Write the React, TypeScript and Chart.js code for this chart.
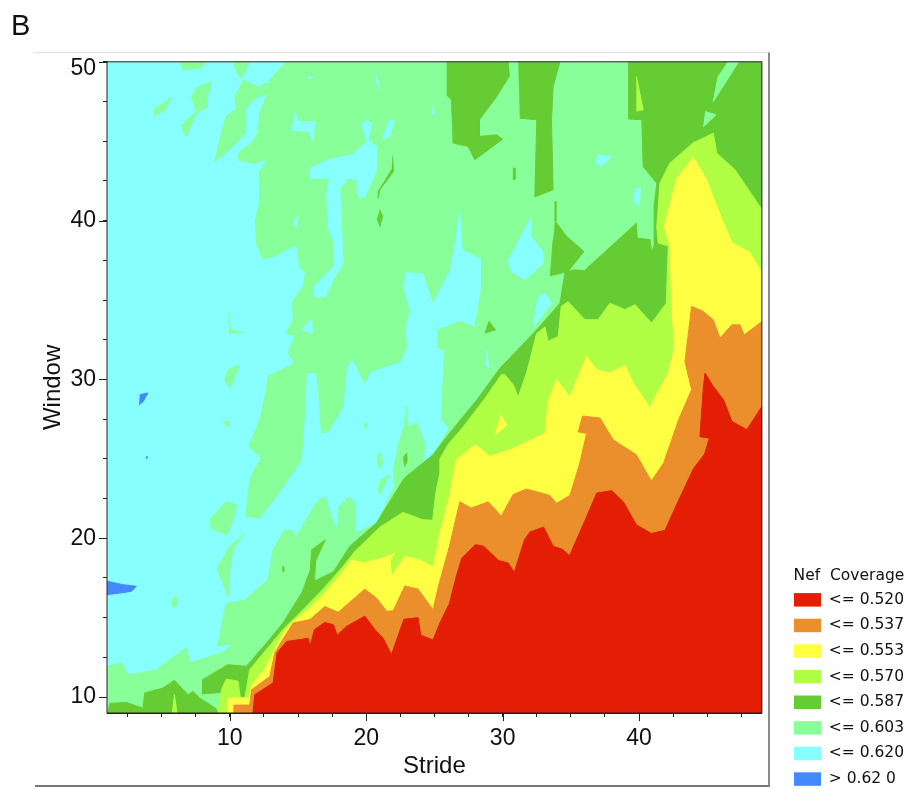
import React, { useEffect, useRef } from "react";
import { Chart, registerables } from "chart.js";

Chart.register(...registerables);

type P = [number, number];

const strideTicks = [2.5, 5, 7.5, 10, 12.5, 15, 17.5, 20, 22.5, 25, 27.5, 30, 32.5, 35, 37.5, 40, 42.5, 45, 47.5];
const windowTicks = [10, 12.5, 15, 17.5, 20, 22.5, 25, 27.5, 30, 32.5, 35, 37.5, 40, 42.5, 45, 47.5, 50];
const majorTicks = [10, 20, 30, 40, 50];

const legendLabels = ["<= 0.520", "<= 0.537", "<= 0.553", "<= 0.570", "<= 0.587", "<= 0.603", "<= 0.620", "> 0.62 0"];
const legendColors = ["#E31E04", "#EA8F2B", "#FFFF44", "#B0FF44", "#66CC33", "#88FF99", "#88FFFF", "#4488FF"];
const [RED, ORANGE, YELLOW, LIME, GREEN, PALE, CYAN, BLUE] = legendColors;

const cyanField: P[] = [[1, 9], [1, 50], [49, 50], [49, 9]];

const paleMain: P[] = [[14.15, 50], [12.93, 48.87], [12.69, 47.8], [12.2, 46.77], [12.08, 45.5], [11.46, 44.78], [10.73, 44.35], [10.6, 43.83], [11.83, 43.6], [12.8, 43.93], [12.15, 43], [12.2, 41.3], [11.9, 40.05], [11.95, 38.6], [12.44, 37.58], [13.18, 37.74], [14.9, 38.5], [15.13, 37.1], [15.57, 36.7], [15.38, 35.86], [14.6, 34.9], [14.64, 33.76], [14.15, 32.9], [14.77, 32.8], [14.3, 31.66], [14.77, 31], [12.8, 30.2], [12.69, 29.36], [12.2, 27.47], [11.4, 25.8], [12.3, 25.05], [11.5, 23.8], [11.17, 21.38], [12.2, 21.28], [13.7, 23], [15.25, 24.95], [15.5, 28.1], [15.57, 29.36], [15.6, 30.4], [16, 30.44], [16.35, 30.4], [16.5, 29.36], [16.72, 26.63], [17.2, 26.73], [18.3, 28.3], [18.4, 29.36], [18.55, 30.8], [19, 31.3], [19.9, 29.77], [20.27, 30.5], [22.47, 31.13], [22.96, 32.08], [22.83, 33.13], [23.15, 34.38], [22.7, 35.65], [22.83, 36.8], [24.2, 36.7], [24.9, 34.9], [26.1, 36.9], [26.5, 38.8], [26.86, 41.3], [27.1, 38.2], [28.45, 37.6], [28.45, 35.65], [27.96, 33.3], [26.86, 33.65], [25.27, 33.13], [25.27, 32], [25.76, 31.87], [25.6, 29.36], [25.53, 27.47], [26.1, 26.94], [24.9, 25.26], [24.2, 24.74], [24.3, 26], [23.7, 27.26], [23, 27], [22.96, 28.3], [22.76, 27], [22.34, 25.8], [22, 24.3], [22.1, 23.3], [20.75, 20.96], [19.2, 20.3], [19.2, 22.2], [18.7, 22.6], [18, 22], [17.9, 20.5], [17.5, 21.2], [17, 22.6], [16.4, 22.3], [14.8, 20], [14.6, 20.5], [14, 20.5], [13.2, 19.3], [12.8, 17.4], [11.1, 16.1], [9.74, 15.9], [9.1, 13.2], [10.2, 13.4], [9.75, 12.9], [7.06, 12.15], [6.8, 13.1], [4.6, 11.7], [2.54, 11.4], [2.05, 12.15], [1, 11.94], [1, 9], [49, 9], [49, 50]];

const paleIslands: P[][] = [
  [[6.28, 50], [8.16, 50], [7.92, 49.6], [6.57, 49.5]],
  [[10.24, 50], [11.46, 50], [10.85, 48.97], [10.44, 49.4]],
  [[10.98, 48.87], [12.1, 48.4], [12.69, 48.66], [12.8, 48], [11.83, 47.7], [11.1, 46.98], [11.2, 46.56], [11.1, 45.5], [10.24, 44.67], [8.9, 43.7], [9.39, 45.5], [9.75, 46.56], [10.5, 47.1], [10.36, 47.8]],
  [[8.65, 48.76], [8.41, 48], [8.29, 47.1], [7.55, 46.77], [7.06, 45.8], [6.77, 45.3], [6.45, 46], [7.55, 46.87], [7.19, 47.8], [7.67, 48.45]],
  [[5.72, 47.8], [5.23, 46.98], [4.5, 46.6], [4.42, 47]],
  [[9.87, 30.6], [10.73, 30.92], [10, 29.45], [9.6, 30]],
  [[9.9, 34.2], [10, 32.9], [11, 32.95], [10.1, 33.1]],
  [[9.5, 27.3], [9.88, 27.4], [10, 27.2], [9.75, 27]],
  [[8.53, 21.17], [9.75, 22.3], [10.5, 22.1], [10.1, 20.75], [9.75, 20.2], [8.6, 20.65]],
  [[11.1, 20.3], [10, 19.5], [9.07, 18.13], [9.88, 16.35], [10, 17.9], [10.24, 19.3]],
  [[5.96, 16.35], [6.2, 16], [5.9, 15.6], [5.7, 16]],
  [[19.8, 27.15], [20.1, 27.26], [20, 26.9]],
  [[20.95, 25.5], [21.2, 24.7], [20.9, 24.4], [20.8, 25.15]],
  [[21, 23.6], [21.7, 24], [21, 22.8], [20.83, 23]],
];

const cyanHoles: P[][] = [
  [[14.77, 46.87], [15, 46.24], [16.23, 46.24], [16.1, 45], [15.74, 45.6], [14.5, 45.7]],
  [[15.75, 49.08], [16.1, 49], [15.8, 48.87]],
  [[20.75, 49.18], [21, 48.24], [20.7, 48.87]],
  [[19.65, 46], [20, 46.35], [20.4, 46.14], [20.15, 45.1], [20.76, 44.67], [20.76, 43.2], [19.9, 41.5], [19.4, 41.5], [19.3, 42.57], [18.68, 42.67], [18.07, 42], [18.2, 39.63], [18.3, 37.3], [17.6, 36.28], [17, 35.2], [16.2, 35.2], [16.2, 35.85], [17.6, 37.1], [17.6, 38.6], [17.2, 39.63], [17.1, 41.7], [17.33, 42.67], [15.87, 42.67], [15.87, 43.3], [17.2, 43.83], [19, 44.15], [20, 44.98]],
  [[21.6, 46.24], [22.1, 46.35], [21.73, 45.3], [21.12, 45.1]],
  [[14.77, 40.16], [15, 40.26], [14.9, 39.53], [14.65, 39.84]],
  [[16, 33.86], [16.06, 32.9], [15.25, 33.13]],
  [[24.9, 47.3], [25, 46.66], [24.8, 46.77]],
  [[36.9, 44.15], [38, 44], [37.25, 43.45], [36.84, 43.6]],
  [[39.7, 42], [40.1, 42], [40, 40.9], [39.6, 41.3]],
  [[32.1, 40.26], [31.2, 38.8], [30.4, 37.5], [30.65, 36.8], [31.63, 36.28], [32.97, 37.3], [32.97, 38], [32.1, 39]],
  [[33.1, 35.43], [33.58, 34.8], [32.24, 33.3], [32.6, 35.2]],
  [[28.8, 31.87], [29, 30.7], [28.77, 30.9]],
];

const blueIslands: P[][] = [
  [[1, 17.3], [2.16, 17.08], [3.15, 16.98], [2.8, 16.66], [1.93, 16.55], [1, 16.45]],
  [[3.4, 29.04], [4, 29.15], [3.64, 28.6], [3.35, 28.4]],
  [[3.85, 25.15], [4, 25.1], [3.9, 25]],
];

const greenBase: P[] = [[1.07, 9], [1.2, 9.6], [2.4, 9.67], [3.64, 9.3], [3.76, 10.26], [5.1, 10.57], [5.94, 11.06], [6.94, 10.15], [7.3, 10.36], [7.8, 9.94], [8.96, 9.3], [9.14, 9]];

const greenMain: P[] = [[9.4, 9], [9.4, 10.3], [8, 10.2], [8, 11.1], [9.85, 12.04], [11.22, 11.94], [12.69, 13.4], [13.9, 14.67], [14.64, 15.7], [15.3, 16.6], [15.5, 17.08], [15.9, 18], [16, 19.28], [17, 19.9], [16.3, 18.6], [16.2, 17.3], [17.6, 17.9], [18.8, 19.5], [20.75, 20.96], [22.8, 23.8], [24.9, 25.26], [25.9, 26.4], [28.1, 28.7], [29.8, 30.7], [32.5, 33.13], [34.2, 34.8], [34.56, 36.7], [35.17, 36.9], [36, 36.86], [39.8, 39.84], [39.87, 38.9], [40.8, 38.8], [40.92, 38], [41.1, 38.4], [41.1, 40.9], [41.3, 42.36], [40.3, 43.4], [40.2, 46.35], [39.23, 46.4], [39.23, 50], [49, 50], [49, 9]];

const greenIslands: P[][] = [
  [[25.9, 50], [30.4, 50], [30.5, 49.1], [29.55, 47.8], [28.3, 46.35], [28.28, 45.3], [29.55, 45.4], [30, 45.13], [27.96, 43.83], [27.47, 44.67], [26.37, 44.88], [26.25, 47.6], [25.9, 47.9]],
  [[31.14, 50], [34.2, 50], [33.7, 48.45], [33.58, 46.35], [33.7, 41.94], [32.36, 41.5], [32.5, 46.35], [31.26, 46.45]],
  [[33.83, 40], [34.7, 39], [35.96, 38.06], [34.8, 36.8], [33.5, 36.53], [33.7, 38.8]],
  [[33.8, 41.2], [33.9, 41.2], [33.9, 40], [33.8, 40]],
  [[28.7, 32.9], [29, 33.65], [29.5, 33.1]],
  [[30.75, 43.3], [30.9, 43.3], [30.9, 42.6], [30.75, 42.6]],
  [[21, 40.68], [21.2, 40.26], [21, 39.63], [20.8, 40.16]],
  [[21.93, 44.04], [22, 43.1], [21, 41.94], [20.88, 41.4], [20.88, 41.84], [21.86, 43.2]],
  [[22.7, 25.05], [22.97, 25.37], [23, 24.85], [22.8, 24.5]],
  [[13.85, 18.25], [13.95, 18.2], [13.95, 17.9], [13.85, 17.95]],
];

const paleInGreen: P[][] = [
  [[46.5, 50], [47.3, 50], [45.44, 47.5], [45.8, 49.1]],
  [[44.83, 46.87], [45.64, 46.66], [44.7, 45.9]],
];

const limeMain: P[] = [[9.14, 9], [9.39, 10.47], [9.75, 11.14], [10.6, 11], [10.78, 9.95], [11.1, 9.95], [11.34, 11.1], [11.46, 11.73], [12.69, 13], [13.9, 14.25], [15.13, 15.3], [16.8, 16.76], [18.3, 18.23], [19.2, 19.2], [21, 20.7], [22.7, 21.63], [24.13, 21.17], [24.87, 21.13], [25.1, 22.85], [25.4, 24.1], [25.4, 25], [26, 25.9], [27.1, 27], [28.7, 28.8], [29.9, 30.3], [30.16, 30.3], [30.77, 29.66], [31.14, 28.9], [31.75, 30.4], [32.5, 32.9], [33.1, 33.3], [33.34, 32.4], [34.07, 32.7], [34.3, 34.6], [34.8, 34.9], [36.03, 33.76], [37, 33.76], [37.86, 34.8], [38.96, 34.4], [39.7, 34.7], [40.92, 33.55], [42, 34.8], [42.14, 38.4], [41.4, 38.6], [41.3, 39.6], [41.53, 42.36], [42.26, 43.62], [43.97, 44.9], [45.44, 45.5], [45.69, 44.25], [47.03, 43.2], [49, 40.7], [49, 9]];

const limeIslands: P[][] = [
  [[5.8, 9], [5.94, 10.15], [6.13, 9]],
  [[39.8, 49.08], [40.3, 46.98], [39.8, 46.9]],
];

const yellowMain: P[] = [[9.83, 9], [9.88, 9.95], [11.46, 9.95], [11.58, 10.7], [12.69, 11.94], [13.18, 12.8], [13.9, 14.04], [14.5, 14.67], [15.6, 15.4], [16.97, 16.55], [18.3, 17.9], [18.94, 18.65], [19.8, 18.44], [21.24, 18.76], [22.1, 19.07], [21.75, 18.65], [21.85, 17.6], [22.83, 18.86], [23.9, 18.65], [24.9, 18.2], [25.4, 20.3], [26.1, 22.6], [26.6, 24.95], [28, 25.9], [29.06, 25.16], [30.65, 25.6], [33.1, 26.6], [33.34, 28.6], [33.95, 30], [34.93, 28.9], [36.15, 31.45], [36.9, 30.6], [37.9, 30.4], [38.96, 30.9], [39.57, 29.8], [40.8, 28.2], [41.04, 28.7], [42.14, 30.4], [42.6, 32], [42.4, 34.6], [42.26, 38.4], [42.14, 38.8], [41.85, 39.6], [42.75, 42.6], [43.97, 44], [44.95, 42.57], [45.69, 40.9], [46.8, 38.6], [48.13, 38], [49, 36.7], [49, 9]];

const yellowIslands: P[][] = [[[29.9, 27.8], [29.43, 26.5], [30.33, 27.15]]];

const orangeMain: P[] = [[10.24, 9], [10.3, 9.5], [11.46, 9.5], [11.6, 10.47], [12.93, 11.3], [13.3, 12.8], [14.03, 13.83], [14.64, 14.67], [15.87, 14.88], [16.97, 15.7], [17.95, 15.34], [19.9, 16.8], [20.75, 16.24], [21.5, 15.4], [21.98, 15.44], [22.83, 17], [23.8, 16.8], [24.9, 15.5], [25.3, 17], [26.1, 19.5], [26.86, 22.3], [27.7, 21.9], [28.94, 22.3], [29.9, 21.4], [30.77, 22.75], [31.75, 23.1], [33.46, 22.7], [33.95, 22.2], [34.93, 22.7], [35.66, 24.75], [36.15, 26.6], [35.54, 26.7], [35.86, 27.7], [37.13, 27.57], [38.1, 26.2], [39.8, 25.26], [40.9, 23.6], [41.8, 24.74], [42.9, 27.47], [43.85, 29.36], [43.36, 31.13], [43.85, 34.6], [44.7, 34.28], [45.44, 33.76], [45.93, 32.6], [46.8, 33.44], [47.4, 33.44], [47.7, 32.8], [49, 33.65], [49, 9]];

const redMain: P[] = [[11.7, 9], [11.83, 10.15], [13.18, 10.9], [13.47, 12.8], [14.16, 13.5], [15.74, 13.7], [15.9, 13.25], [16.2, 14.25], [16.97, 14.7], [17.6, 14.55], [17.87, 13.9], [18.55, 14.45], [19.9, 15.1], [20.63, 14.25], [21.24, 13.7], [21.85, 12.67], [22.76, 14.9], [23.8, 15], [24, 13.9], [24.9, 13.6], [25.4, 14.67], [26.1, 15.9], [26.6, 17.6], [27, 18.75], [28, 19.6], [28.6, 19.5], [29.7, 18.6], [30.4, 18.45], [30.85, 17.85], [31.6, 19.9], [32, 20.4], [33, 20.7], [33.7, 19.5], [34.4, 19.3], [34.9, 18.9], [36, 21.05], [36.9, 22.85], [38, 23], [38.84, 22.3], [39.8, 20.85], [40.9, 20.3], [41.9, 20.5], [42.9, 22.4], [44, 24.4], [44.8, 25.3], [45.15, 26.3], [44.46, 26.4], [44.7, 29.35], [44.83, 30.4], [45.44, 29.56], [46.2, 28.7], [46.8, 27.36], [47.9, 26.84], [49, 28.3], [49, 9]];

const layers: [P[], string][] = [
  [cyanField, CYAN],
  [paleMain, PALE],
  ...paleIslands.map((p): [P[], string] => [p, PALE]),
  ...cyanHoles.map((p): [P[], string] => [p, CYAN]),
  ...blueIslands.map((p): [P[], string] => [p, BLUE]),
  [greenBase, GREEN],
  [greenMain, GREEN],
  ...greenIslands.map((p): [P[], string] => [p, GREEN]),
  ...paleInGreen.map((p): [P[], string] => [p, PALE]),
  [limeMain, LIME],
  ...limeIslands.map((p): [P[], string] => [p, LIME]),
  [yellowMain, YELLOW],
  ...yellowIslands.map((p): [P[], string] => [p, YELLOW]),
  [orangeMain, ORANGE],
  [redMain, RED],
];

const plotFrame = {
  id: "plotFrame",
  afterDraw(chart: any) {
    const { ctx, chartArea: a, scales } = chart;
    ctx.save();
    ctx.strokeStyle = "#222";
    ctx.lineWidth = 1;
    ctx.strokeRect(a.left, a.top, a.right - a.left, a.bottom - a.top);
    ctx.beginPath();
    majorTicks.forEach((v) => {
      if (v < 50) {
        const x = Math.round(scales.x.getPixelForValue(v)) + 0.5;
        ctx.moveTo(x, a.bottom);
        ctx.lineTo(x, a.bottom + 8);
      }
      const y = Math.round(scales.y.getPixelForValue(v)) + 0.5;
      ctx.moveTo(a.left, y);
      ctx.lineTo(a.left - 8, y);
    });
    ctx.stroke();
    ctx.restore();
  },
};

const SANS = "'Liberation Sans', Arial, sans-serif";
const TICK_FONT = { family: SANS, size: 23 };
const TOP_TICK_FONT = { family: SANS, size: 23, lineHeight: 0.6 };
const TITLE_FONT = { family: SANS, size: 24 };
const LEGEND_FONT = { family: "'DejaVu Sans', sans-serif", size: 15.5 };
const INK = "#111";

export default function App() {
  const ref = useRef<HTMLCanvasElement | null>(null);
  useEffect(() => {
    const chart = new Chart(ref.current as HTMLCanvasElement, {
      type: "scatter",
      data: {
        datasets: layers.map(([pts, color], i) => ({
          data: pts.map(([x, y]) => ({ x, y })),
          showLine: true,
          fill: "shape",
          tension: 0,
          pointRadius: 0,
          borderWidth: 1,
          borderColor: color,
          backgroundColor: color,
          order: layers.length - i,
        })),
      } as any,
      plugins: [plotFrame],
      options: {
        animation: false,
        responsive: false,
        events: [],
        layout: { padding: { left: 11 } },
        plugins: {
          tooltip: { enabled: false },
          title: {
            display: true,
            text: "B",
            align: "start",
            color: INK,
            font: { family: SANS, size: 29, weight: "normal" },
            padding: { top: 10, bottom: 17 },
          },
          legend: {
            display: true,
            position: "right",
            align: "start",
            title: { display: true, text: "Nef  Coverage", color: INK, font: LEGEND_FONT, padding: { top: 568, bottom: -4.6 } },
            labels: {
              color: INK,
              font: LEGEND_FONT,
              boxWidth: 27,
              boxHeight: 13.5,
              padding: 10.1,
              generateLabels: () =>
                legendLabels.map((text, i) => ({
                  text,
                  fillStyle: legendColors[i],
                  strokeStyle: legendColors[i],
                  lineWidth: 0,
                  hidden: false,
                  fontColor: INK,
                })),
            },
          },
        },
        scales: {
          x: {
            type: "linear",
            min: 1,
            max: 49,
            afterBuildTicks: (s: any) => { s.ticks = strideTicks.map((value) => ({ value })); },
            afterFit: (s: any) => { s.height = 107; },
            grid: { display: true, drawOnChartArea: false, tickLength: 4, color: "#222" },
            border: { display: true, color: "#222" },
            ticks: {
              autoSkip: false,
              maxRotation: 0,
              padding: 8,
              color: INK,
              font: TICK_FONT,
              callback: (v: any) => (majorTicks.includes(v) ? String(v) : ""),
            },
            title: { display: true, text: "Stride", color: INK, font: TITLE_FONT, padding: { top: 0, bottom: 39 } },
          },
          y: {
            type: "linear",
            min: 9,
            max: 50,
            afterBuildTicks: (s: any) => { s.ticks = windowTicks.map((value) => ({ value })); },
            afterFit: (s: any) => { s.width = 96; },
            grid: { display: true, drawOnChartArea: false, tickLength: 4, color: "#222" },
            border: { display: true, color: "#222" },
            ticks: {
              autoSkip: false,
              padding: 7,
              color: INK,
              font: (ctx: any) => (ctx.tick && ctx.tick.value === 50 ? TOP_TICK_FONT : TICK_FONT),
              callback: (v: any) => (v === 50 ? ["", "50"] : majorTicks.includes(v) ? String(v) : ""),
            },
            title: { display: true, text: "Window", color: INK, font: TITLE_FONT, padding: { top: 28, bottom: 0 } },
          },
          gap: {
            type: "linear",
            position: "right",
            afterFit: (s: any) => { s.width = 22; },
            grid: { display: false },
            border: { display: false },
            ticks: { display: false },
          },
        },
      },
    } as any);
    return () => chart.destroy();
  }, []);
  return (
    <div style={{ position: "absolute", left: 0, top: 0, width: 907, height: 789, overflow: "hidden", background: "#fff" }}>
      <canvas ref={ref} width={914} height={820} style={{ display: "block" }} />
      <div
        style={{
          position: "absolute",
          left: 35,
          top: 52,
          width: 733,
          height: 732,
          borderTop: "1px solid #ddd",
          borderRight: "2px solid #8a8a8a",
          borderBottom: "2px solid #777",
          pointerEvents: "none",
        }}
      />
    </div>
  );
}
